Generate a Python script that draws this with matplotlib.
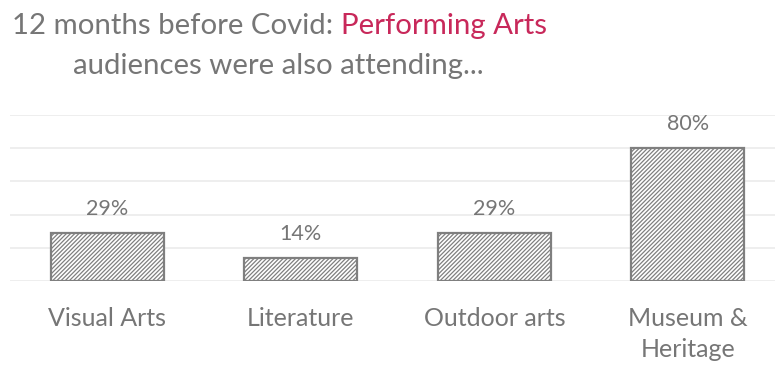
import matplotlib.pyplot as plt

plt.rcParams['font.family'] = ['Lato', 'DejaVu Sans']
plt.rcParams['hatch.color'] = '#dddddd'
plt.rcParams['hatch.linewidth'] = 0.9

categorias = ['Visual Arts', 'Literature', 'Outdoor arts', 'Museum &\nHeritage']
valores = [29, 14, 29, 80]
etiquetas = ['29%', '14%', '29%', '80%']

gris = '#767676'
rojo = '#c8285a'

fig = plt.figure(figsize=(7.75, 3.65), dpi=100)
ax = fig.add_axes([10 / 775, 1 - 281 / 365, 765 / 775, 166 / 365])

x = range(len(categorias))
ax.bar(x, valores, width=0.585, color='white', edgecolor='#7f7f7f',
       linewidth=1.6, hatch='////////', zorder=3)

for xi, v, t in zip(x, valores, etiquetas):
    ax.annotate(t, (xi, v), xytext=(0, 10), textcoords='offset points',
                ha='center', va='bottom', fontsize=15.5, color=gris)

ax.set_xlim(-0.503, -0.503 + 765 / 193.5)
ax.set_ylim(0, 100)
ax.set_yticks(range(0, 101, 20))
ax.grid(True, axis='y', color='#ebebeb', linewidth=1.2, zorder=0)
ax.set_xticks(list(x))
ax.set_xticklabels(categorias, fontsize=18, color=gris, linespacing=1.45)
ax.tick_params(axis='x', length=0, pad=18.5)
ax.tick_params(axis='y', length=0, labelleft=False)
for s in ax.spines.values():
    s.set_visible(False)

# Titulo en dos colores
t1 = fig.text(12 / 775, 1 - 34 / 365, '12 months before Covid: ', fontsize=21.2,
              color=gris, ha='left', va='baseline')
t2 = fig.text(0, 1 - 34 / 365, 'Performing Arts', fontsize=21.2, color=rojo,
              ha='left', va='baseline')
fig.canvas.draw()
bb = t1.get_window_extent()
t2.set_x(bb.x1 / 775)
fig.text(278 / 775, 1 - 74 / 365, 'audiences were also attending...', fontsize=21.2,
         color=gris, ha='center', va='baseline')

fig.savefig('out.png', dpi=100)
